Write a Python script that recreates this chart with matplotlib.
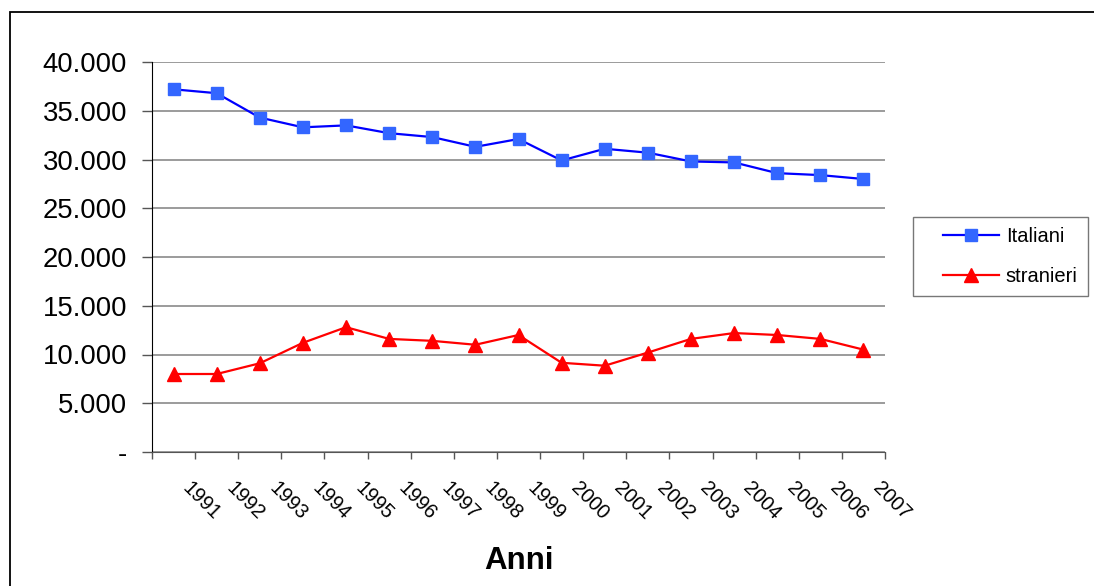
import matplotlib
matplotlib.use("Agg")
import matplotlib.pyplot as plt
from matplotlib.ticker import FuncFormatter, FixedLocator
from matplotlib.transforms import ScaledTranslation
from matplotlib.patches import Rectangle
from matplotlib.lines import Line2D
from matplotlib.legend_handler import HandlerLine2D

plt.rcParams['font.family'] = ['Liberation Sans', 'DejaVu Sans']

anni = ['1991', '1992', '1993', '1994', '1995', '1996', '1997', '1998', '1999',
        '2000', '2001', '2002', '2003', '2004', '2005', '2006', '2007']
italiani = [37200, 36800, 34300, 33300, 33500, 32700, 32300, 31300, 32100,
            29900, 31100, 30700, 29800, 29700, 28600, 28400, 28000]
stranieri = [8000, 8000, 9100, 11200, 12800, 11600, 11400, 11000, 12000,
             9150, 8850, 10200, 11600, 12200, 12000, 11600, 10500]

fig = plt.figure(figsize=(10.94, 5.86), dpi=100)
ax = fig.add_axes([152/1094, 1-452/586, (885-152)/1094, (452-62)/586])

# cornice del grafico
fig.patches.append(Rectangle((10/1094, -0.1), 1.2, 1-12/586+0.1, transform=fig.transFigure,
                             fill=False, edgecolor='black', lw=1.3))

x = list(range(len(anni)))
ax.plot(x, italiani, color='#0000FF', lw=1.6, marker='s', ms=8,
        mfc='#3366FF', mec='#3366FF', label='Italiani')
ax.plot(x, stranieri, color='#FF0000', lw=1.6, marker='^', ms=10,
        mfc='#FF0000', mec='#FF0000', label='stranieri')

ax.set_ylim(0, 40000)
ax.set_xlim(-0.5, len(anni) - 0.5)
ax.set_yticks(range(0, 40001, 5000))
ax.yaxis.set_major_formatter(FuncFormatter(lambda v, p: '-' if v == 0 else '{:,.0f}'.format(v).replace(',', '.')))
ax.grid(axis='y', color='#808080', lw=1.1)
ax.set_axisbelow(True)

ax.xaxis.set_major_locator(FixedLocator([i - 0.5 for i in range(len(anni) + 1)]))
ax.xaxis.set_major_formatter(FuncFormatter(lambda v, p: ''))
ax.xaxis.set_minor_locator(FixedLocator(x))
ax.set_xticklabels(anni, minor=True, rotation=-45, ha='left', va='top', rotation_mode='anchor', fontsize=14.5)
ax.tick_params(axis='x', which='minor', length=0, pad=19)
ax.tick_params(axis='x', which='major', length=5, width=1, color='#555555')
ax.tick_params(axis='y', length=7, width=1, color='#555555', labelsize=19.8, pad=11)
for lab in ax.get_xticklabels(minor=True):
    lab.set_transform(lab.get_transform() + ScaledTranslation(0.19, 0, fig.dpi_scale_trans))

for s in ['top', 'right']:
    ax.spines[s].set_visible(False)
ax.spines['left'].set_color('black')
ax.spines['bottom'].set_color('#555555')

fig.text((152+885)/2/1094, 1-561/586, 'Anni', ha='center', va='center',
         fontsize=22.5, fontweight='bold')

leg = fig.legend(loc='upper left', bbox_to_anchor=(913/1094, 1-217/586), borderaxespad=0,
                 fontsize=14.5, frameon=True, fancybox=False, edgecolor='#555555',
                 handlelength=3.75, handletextpad=0.35, labelspacing=1.05, borderpad=0.5,
                 handler_map={Line2D: HandlerLine2D(xpad=1.0)})
leg.get_frame().set_linewidth(1.0)

fig.savefig('out.png', dpi=100)
